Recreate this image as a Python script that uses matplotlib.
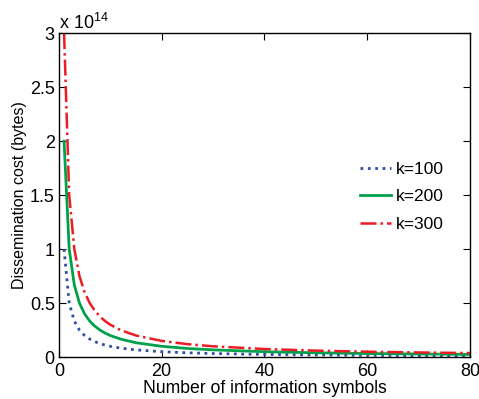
import matplotlib
matplotlib.use('Agg')
import matplotlib.pyplot as plt

plt.rcParams['font.family'] = ['Liberation Sans', 'DejaVu Sans']
plt.rcParams['mathtext.default'] = 'regular'

# valores (unidades de 1e14 bytes)
n_simbolos = [1, 2, 3, 4, 5, 6, 7, 8, 9, 10, 12, 15, 20, 25, 30, 40, 50, 60, 70, 80]
coste_k100 = [1.0, 0.5, 0.333, 0.25, 0.2, 0.167, 0.143, 0.125, 0.111, 0.1, 0.083,
              0.067, 0.05, 0.04, 0.033, 0.025, 0.02, 0.017, 0.014, 0.0125]
coste_k200 = [2.0, 1.0, 0.667, 0.5, 0.4, 0.333, 0.286, 0.25, 0.222, 0.2, 0.167,
              0.133, 0.1, 0.08, 0.067, 0.05, 0.04, 0.033, 0.029, 0.025]
coste_k300 = [3.0, 1.5, 1.0, 0.75, 0.6, 0.5, 0.429, 0.375, 0.333, 0.3, 0.25,
              0.2, 0.15, 0.12, 0.1, 0.075, 0.06, 0.05, 0.043, 0.0375]
etiquetas = ['k=100', 'k=200', 'k=300']

fig = plt.figure(figsize=(4.79, 3.99), dpi=100)
ax = fig.add_axes([0.123, 0.105, 0.858, 0.812])

ax.plot(n_simbolos, coste_k100, color='#2d4fa3', linestyle=':', linewidth=2, label=etiquetas[0])
ax.plot(n_simbolos, coste_k200, color='#00a14b', linestyle='-', linewidth=2, label=etiquetas[1])
ax.plot(n_simbolos, coste_k300, color='#ec1c24', linestyle='-.', linewidth=1.8, label=etiquetas[2])

ax.set_xlim(0, 80)
ax.set_ylim(0, 3)
ax.set_xticks([0, 20, 40, 60, 80])
ax.set_yticks([0, 0.5, 1, 1.5, 2, 2.5, 3])
ax.set_yticklabels(['0', '0.5', '1', '1.5', '2', '2.5', '3'])
ax.tick_params(direction='in', labelsize=13, length=5, top=True, right=True)
ax.tick_params(axis='x', pad=4)
ax.tick_params(axis='y', pad=3)
for s in ax.spines.values():
    s.set_linewidth(1.0)

ax.set_xlabel('Number of information symbols', fontsize=12.7, labelpad=0)
ax.set_ylabel('Dissemination cost (bytes)', fontsize=11.5, labelpad=2)
ax.text(0.0, 1.0, r'x 10$^{14}$', transform=ax.transAxes, fontsize=13,
        ha='left', va='bottom')

ax.legend(loc='center right', bbox_to_anchor=(0.975, 0.495), frameon=False,
          fontsize=12.5, handlelength=1.75, labelspacing=0.72, handletextpad=0.3)

plt.savefig('out.png', dpi=100)
